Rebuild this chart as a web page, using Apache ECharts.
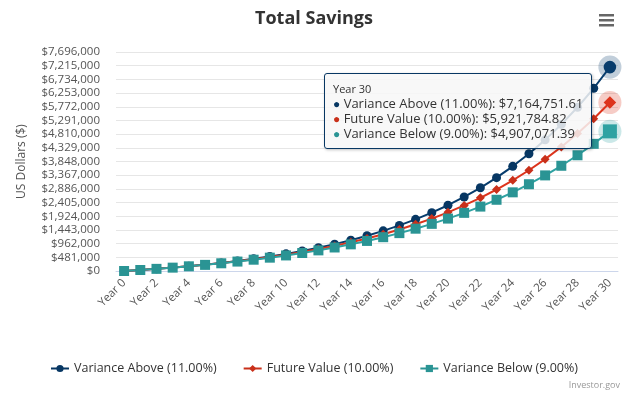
<!DOCTYPE html>
<html>
<head>
<meta charset="utf-8">
<title>Total Savings</title>
<script src="https://cdn.jsdelivr.net/npm/echarts@6/dist/echarts.min.js"></script>
<style>
  html, body { margin: 0; padding: 0; background: #fff; }
  #chart { width: 628px; height: 398px; }
</style>
</head>
<body>
<div id="chart"></div>
<script>
// categories
const years = [];
for (let i = 0; i <= 30; i++) years.push("Year " + i);

// series values (year 0..30)
const varianceAbove = [
  0, 36000, 75960, 120315.6, 169550.3, 224200.8, 284862.9, 352197.9, 426939.7, 509903.0,
  601992.3, 704211.5, 817674.7, 943618.9, 1083417.0, 1238592.9, 1410838.1, 1602030.3,
  1814253.6, 2049821.5, 2311301.9, 2601545.1, 2923714.7, 3281323.8, 3678269.4, 4118879.0,
  4607956.1, 5150830.9, 5753422.3, 6422299.1, 7164751.61
];
const futureValue = [
  0, 36000, 75600, 119160, 167076, 219783.6, 277761.96, 341538.16, 411691.97, 488861.17,
  573747.29, 667122.01, 769834.22, 882817.64, 1007099.40, 1143809.34, 1294190.27, 1459609.30,
  1641570.23, 1841727.26, 2061899.98, 2304089.98, 2570498.98, 2863548.88, 3185903.76, 3540494.14,
  3930543.55, 4359597.91, 4831557.70, 5350713.47, 5921784.82
];
const varianceBelow = [
  0, 36000, 75240, 118011.6, 164632.6, 215449.6, 270840.0, 331215.6, 397025.1, 468757.3,
  546945.5, 632170.6, 725065.9, 826321.8, 936690.8, 1056993.0, 1188122.4, 1331053.4,
  1486848.2, 1656664.5, 1841764.3, 2043523.1, 2263440.2, 2503149.8, 2764433.3, 3049232.3,
  3359663.2, 3698032.9, 4066855.8, 4468872.8, 4907071.39
];

const names = ["Variance Above (11.00%)", "Future Value (10.00%)", "Variance Below (9.00%)"];
const colors = ["#073763", "#c9301a", "#2a9494"];
const symbols = ["circle", "diamond", "rect"];
const allData = [varianceAbove, futureValue, varianceBelow];

const font = "'Open Sans', sans-serif";
const last = years.length - 1;

function money(v, dec) {
  return "$" + v.toLocaleString("en-US", { minimumFractionDigits: dec, maximumFractionDigits: dec });
}

const chart = echarts.init(document.getElementById("chart"), null, { renderer: "canvas" });

const lineSeries = allData.map((d, i) => ({
  name: names[i],
  type: "line",
  data: d,
  symbol: symbols[i],
  symbolSize: i === 2 ? 10 : 9,
  showAllSymbol: true,
  color: colors[i],
  lineStyle: { width: 2, color: colors[i] },
  itemStyle: { color: colors[i] },
  emphasis: { scale: 1.4, focus: "none" },
  z: 3
}));

// hover halos on the last point of each series
const haloSeries = allData.map((d, i) => ({
  name: "halo" + i,
  type: "scatter",
  data: [[last, d[last]]],
  symbol: "circle",
  symbolSize: 21,
  silent: true,
  itemStyle: { color: colors[i], opacity: 0.25 },
  z: 2
}));

chart.setOption({
  animation: false,
  textStyle: { fontFamily: font },
  title: {
    text: "Total Savings",
    left: "center",
    top: 5,
    textStyle: { fontSize: 18, fontWeight: "bold", color: "#333", fontFamily: font }
  },
  grid: { left: 116, right: 10, top: 52, bottom: 127 },
  legend: {
    data: names,
    bottom: 18,
    left: "center",
    itemGap: 26,
    itemWidth: 18,
    itemHeight: 9,
    textStyle: { fontSize: 12.5, color: "#333", fontFamily: font }
  },
  tooltip: {
    trigger: "axis",
    alwaysShowContent: true,
    transitionDuration: 0,
    showDelay: 0,
    axisPointer: { type: "none" },
    position: [324, 73],
    backgroundColor: "rgba(247,247,247,0.85)",
    borderColor: "#073763",
    borderWidth: 1,
    padding: [7, 8],
    extraCssText: "border-radius:3px;box-shadow:1px 1px 3px rgba(0,0,0,0.25);",
    formatter: function (params) {
      const rows = params.filter(p => p.seriesIndex < 3);
      let html = '<div style="font-size:11px;color:#333;line-height:15px;">' + rows[0].axisValue + "</div>";
      rows.forEach(p => {
        html += '<div style="font-size:13px;color:#333;line-height:15px;">' +
          '<span style="color:' + p.color + ';font-size:12px;">\u25CF</span> ' +
          p.seriesName + ": " + money(p.value, 2) + "</div>";
      });
      return html;
    },
    textStyle: { fontFamily: font }
  },
  xAxis: {
    type: "category",
    data: years,
    boundaryGap: true,
    axisLine: { lineStyle: { color: "#ccd6eb", width: 1 } },
    axisTick: { alignWithLabel: true, interval: 1, length: 10, lineStyle: { color: "#ccd6eb" } },
    axisLabel: { interval: 1, rotate: 45, fontSize: 11.5, color: "#555", margin: 10, fontFamily: font },
    splitLine: { show: false }
  },
  yAxis: {
    type: "value",
    min: 0,
    max: 7696000,
    interval: 481000,
    name: "US Dollars ($)",
    nameLocation: "middle",
    nameRotate: 90,
    nameGap: 88,
    nameTextStyle: { fontSize: 12, color: "#555", fontFamily: font },
    axisLine: { show: false },
    axisTick: { show: false },
    axisLabel: {
      fontSize: 11.5,
      color: "#555",
      margin: 16,
      fontFamily: font,
      formatter: v => money(v, 0)
    },
    splitLine: { lineStyle: { color: "#e6e6e6" } }
  },
  graphic: [
    { type: "rect", left: 599, top: 14, shape: { width: 15, height: 2.5 }, style: { fill: "#666" } },
    { type: "rect", left: 599, top: 19, shape: { width: 15, height: 2.5 }, style: { fill: "#666" } },
    { type: "rect", left: 599, top: 24, shape: { width: 15, height: 2.5 }, style: { fill: "#666" } },
    {
      type: "text", right: 8, top: 381,
      style: { text: "Investor.gov", fontSize: 9, fill: "#999", fontFamily: font }
    }
  ],
  series: lineSeries.concat(haloSeries)
});

chart.dispatchAction({ type: "showTip", seriesIndex: 0, dataIndex: last });
</script>
</body>
</html>
